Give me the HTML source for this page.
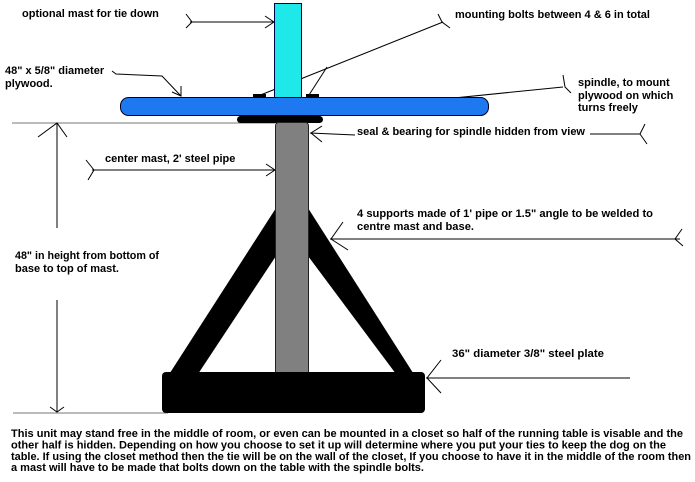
<!DOCTYPE html>
<html><head><style>body{margin:0;background:#fff}svg{display:block}text{font-family:"Liberation Sans",Arial,sans-serif;font-size:11px;fill:#000;font-weight:bold}</style></head>
<body>
<svg width="695" height="482" viewBox="0 0 695 482" xmlns="http://www.w3.org/2000/svg">
<g stroke="#000" fill="none" stroke-width="1">
<line x1="12" y1="123" x2="275" y2="123" stroke="#777"/>
<line x1="57" y1="123" x2="57" y2="228"/>
<line x1="57" y1="300" x2="57" y2="412"/>
<polyline points="38,137 57,123 67,137"/>
<polyline points="50,407 57,412 64,407"/>
<line x1="13" y1="413" x2="168" y2="413" stroke="#777"/>
<line x1="190" y1="22" x2="274" y2="22"/>
<polyline points="265,16 274,22 265,28"/>
<polyline points="186,14 192,22 186,28"/>
<polyline points="112,71 116,74 162,76 181,96"/>
<polyline points="172,92 181,96 181,86"/>
<line x1="258" y1="96" x2="443" y2="22"/>
<line x1="327" y1="67" x2="309" y2="95"/>
<polyline points="438,14 442,22 450,28"/>
<line x1="255" y1="118" x2="563" y2="87"/>
<polyline points="563,75 565,87 571,93"/>
<line x1="310" y1="133" x2="355" y2="135"/>
<polyline points="322,126 311,133 322,142"/>
<line x1="590" y1="134" x2="640" y2="134"/>
<polyline points="645,124 640,134 647,144"/>
<line x1="92" y1="170" x2="275" y2="170"/>
<polyline points="266,164 275,170 266,176"/>
<polyline points="86,160 94,170 88,180"/>
<line x1="330" y1="239" x2="680" y2="239"/>
<polyline points="343,222 331,239 348,250"/>
<polyline points="682,229 675,239 683,246"/>
<line x1="426" y1="378" x2="630" y2="378"/>
<polyline points="441,360 427,378 441,393"/>
</g>
<rect x="274.5" y="3.5" width="27" height="94" fill="#1ee8e8" stroke="#004" />
<rect x="120.5" y="97.5" width="368" height="18" rx="8" fill="#1e78f0" stroke="#002" />
<rect x="253" y="94" width="13" height="4" fill="#000"/>
<rect x="306" y="94" width="13" height="4" fill="#000"/>
<rect x="237" y="116" width="86" height="7" rx="3.5" fill="#000"/>
<polygon points="168,376 276,208 276,256 198,374" fill="#000"/>
<polygon points="308,208 415,376 396,374 308,256" fill="#000"/>
<rect x="275.5" y="122.5" width="33" height="252" rx="3" fill="#808080" stroke="#222"/>
<rect x="162" y="372" width="263" height="41" rx="4" fill="#000"/>
<text x="22" y="17">optional mast for tie down</text>
<text x="5" y="74">48" x 5/8" diameter</text>
<text x="5" y="87">plywood.</text>
<text x="455" y="18">mounting bolts between 4 &amp; 6 in total</text>
<text x="578" y="86">spindle, to mount</text>
<text x="578" y="99">plywood on which</text>
<text x="578" y="111">turns freely</text>
<text x="357" y="135">seal &amp; bearing for spindle hidden from view</text>
<text x="105" y="162">center mast, 2' steel pipe</text>
<text x="357" y="217" textLength="296" lengthAdjust="spacingAndGlyphs">4 supports made of 1' pipe or 1.5" angle to be welded to</text>
<text x="357" y="230" textLength="117" lengthAdjust="spacingAndGlyphs">centre mast and base.</text>
<text x="15" y="259" textLength="144" lengthAdjust="spacingAndGlyphs">48" in height from bottom of</text>
<text x="15" y="272" textLength="104" lengthAdjust="spacingAndGlyphs">base to top of mast.</text>
<text x="452" y="357" textLength="152" lengthAdjust="spacingAndGlyphs">36" diameter 3/8" steel plate</text>
<text x="11" y="437" textLength="672" lengthAdjust="spacingAndGlyphs">This unit may stand free in the middle of room, or even can be mounted in a closet so half of the running table is visable and the</text>
<text x="11" y="448.5" textLength="655" lengthAdjust="spacingAndGlyphs">other half is hidden.  Depending on how you choose to set it up will determine where you put your ties to keep the dog on the</text>
<text x="11" y="460" textLength="680" lengthAdjust="spacingAndGlyphs">table. If using the closet method then the tie will be on the wall of the closet, If you choose to have it in the middle of the room then</text>
<text x="11" y="471" textLength="413" lengthAdjust="spacingAndGlyphs">a mast will have to be made that bolts down on the table with the spindle bolts.</text>
</svg>
</body></html>
